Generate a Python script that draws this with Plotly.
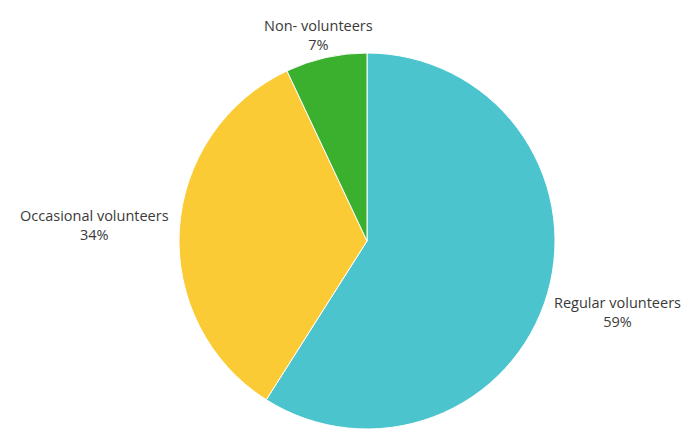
import plotly.graph_objects as go

labels = ["Regular volunteers", "Occasional volunteers", "Non- volunteers"]
values = [59, 34, 7]
colors = ["#4BC4CE", "#FBCB35", "#3BAF2E"]

# label anchor positions (paper coordinates, layout only)
label_pos = [(1.163, 0.31), (-0.221, 0.542), (0.373, 1.048)]

total = sum(values)

fig = go.Figure(go.Pie(
    labels=labels,
    values=values,
    sort=False,
    direction="clockwise",
    rotation=0,
    marker=dict(colors=colors, line=dict(color="#FFFFFF", width=1)),
    textinfo="none",
    showlegend=False,
    hoverinfo="label+percent",
))

for lab, val, (px, py) in zip(labels, values, label_pos):
    fig.add_annotation(
        x=px, y=py, xref="paper", yref="paper",
        xanchor="center", yanchor="middle",
        text=f"{lab}<br>{round(100 * val / total)}%",
        showarrow=False, align="center",
        font=dict(family="Open Sans, Lato, sans-serif", size=14.5, color="#3A3A3A"),
    )

fig.update_layout(
    width=700, height=448,
    margin=dict(l=178, r=144, t=53, b=19, autoexpand=False),
    paper_bgcolor="#FFFFFF",
    plot_bgcolor="#FFFFFF",
)

fig.write_html("out.html")
